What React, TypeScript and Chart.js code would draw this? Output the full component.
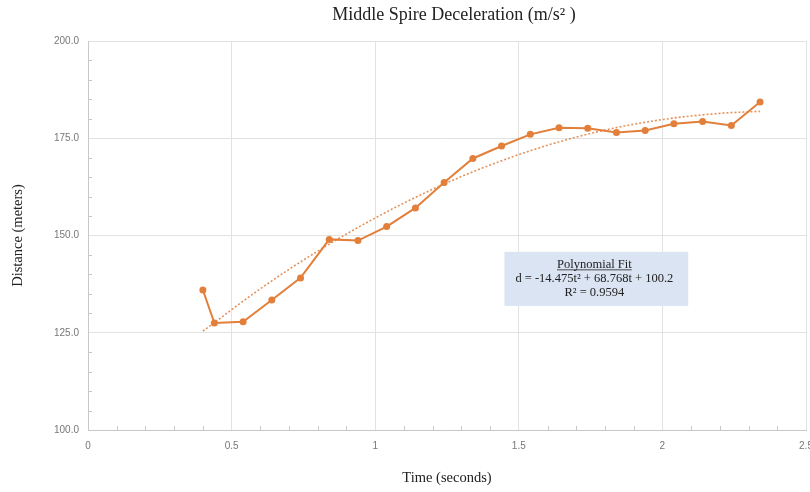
import { useEffect, useRef } from "react";
import { Chart, registerables } from "chart.js";

Chart.register(...registerables);

const times = [0.40, 0.44, 0.54, 0.64, 0.74, 0.84, 0.94, 1.04, 1.14, 1.24, 1.34, 1.44, 1.54, 1.64, 1.74, 1.84, 1.94, 2.04, 2.14, 2.24, 2.34];
const distances = [136.0, 127.5, 127.8, 133.4, 139.1, 149.0, 148.7, 152.3, 157.1, 163.6, 169.8, 173.0, 176.0, 177.7, 177.6, 176.5, 177.0, 178.7, 179.3, 178.3, 184.3];
const trendTimes = [0.4, 0.6, 0.8, 1.0, 1.2, 1.4, 1.6, 1.8, 2.0, 2.2, 2.34];
const trendValues = [125.4, 136.3, 146.0, 154.5, 161.9, 168.1, 173.2, 177.1, 179.8, 181.4, 181.9];
const yTickValues = [100, 125, 150, 175, 200];
const xTickValues = [0, 0.5, 1, 1.5, 2, 2.5];
const fitLines = ["Polynomial Fit", "d = -14.475t\u00B2 + 68.768t + 100.2", "R\u00B2 = 0.9594"];
const chartTitle = "Middle Spire Deceleration (m/s\u00B2 )";
const xTitle = "Time (seconds)";
const yTitle = "Distance (meters)";

const ORANGE = "rgb(226,127,58)";
const SERIF = "'Liberation Serif', 'DejaVu Serif', serif";
const SANS = "'Liberation Sans', Arial, sans-serif";

const minorTicksPlugin = {
  id: "minorTicks",
  beforeDatasetsDraw(chart: any) {
    const { ctx, chartArea, scales } = chart;
    const xs = scales.x;
    const ys = scales.y;
    ctx.save();
    ctx.strokeStyle = "#c8c8c8";
    ctx.lineWidth = 1;
    for (let i = 1; i < 20; i++) {
      if (i % 5 === 0) continue;
      const v = 100 + i * 5;
      const py = Math.round(ys.getPixelForValue(v)) + 0.5;
      ctx.beginPath();
      ctx.moveTo(chartArea.left, py);
      ctx.lineTo(chartArea.left + 4, py);
      ctx.stroke();
    }
    for (let i = 1; i < 25; i++) {
      if (i % 5 === 0) continue;
      const v = i * 0.1;
      const px = Math.round(xs.getPixelForValue(v)) + 0.5;
      ctx.beginPath();
      ctx.moveTo(px, chartArea.bottom);
      ctx.lineTo(px, chartArea.bottom - 4);
      ctx.stroke();
    }
    ctx.restore();
  },
};

const titlePlugin = {
  id: "centerTitle",
  afterDraw(chart: any) {
    const { ctx, chartArea } = chart;
    ctx.save();
    ctx.fillStyle = "#222";
    ctx.font = `18px ${SERIF}`;
    ctx.textAlign = "center";
    ctx.textBaseline = "middle";
    ctx.fillText(chartTitle, (chartArea.left + chartArea.right) / 2 + 7, 15);
    ctx.restore();
  },
};

const fitBoxPlugin = {
  id: "fitBox",
  afterDatasetsDraw(chart: any) {
    const { ctx, scales } = chart;
    const xs = scales.x;
    const ys = scales.y;
    const left = xs.getPixelForValue(1.45);
    const right = xs.getPixelForValue(2.09);
    const top = ys.getPixelForValue(145.8);
    const bottom = ys.getPixelForValue(131.9);
    ctx.save();
    ctx.fillStyle = "rgb(218,228,243)";
    ctx.fillRect(left, top, right - left, bottom - top);
    ctx.fillStyle = "#222";
    ctx.font = `12.5px ${SERIF}`;
    ctx.textAlign = "center";
    ctx.textBaseline = "middle";
    const cx = (left + right) / 2 - 2;
    const startY = top + 12.5;
    fitLines.forEach((line, i) => {
      const y = startY + i * 14;
      ctx.fillText(line, cx, y);
      if (i === 0) {
        const w = ctx.measureText(line).width;
        ctx.strokeStyle = "#222";
        ctx.lineWidth = 0.8;
        ctx.beginPath();
        ctx.moveTo(cx - w / 2, y + 5.5);
        ctx.lineTo(cx + w / 2, y + 5.5);
        ctx.stroke();
      }
    });
    ctx.restore();
  },
};

export default function App() {
  const canvasRef = useRef<HTMLCanvasElement | null>(null);

  useEffect(() => {
    document.body.style.margin = "0";
    const canvas = canvasRef.current;
    if (!canvas) return;
    const chart = new Chart(canvas, {
      type: "line",
      data: {
        datasets: [
          {
            label: "Distance",
            data: times.map((t, i) => ({ x: t, y: distances[i] })),
            borderColor: ORANGE,
            backgroundColor: ORANGE,
            borderWidth: 2,
            pointRadius: 3.5,
            pointBorderWidth: 0,
            pointBackgroundColor: ORANGE,
            tension: 0,
          },
          {
            label: "Poly fit",
            data: trendTimes.map((t, i) => ({ x: t, y: trendValues[i] })),
            borderColor: "rgba(228,140,80,0.95)",
            borderWidth: 1.6,
            borderDash: [2, 2],
            pointRadius: 0,
            cubicInterpolationMode: "monotone",
          },
        ],
      },
      options: {
        responsive: false,
        animation: false,
        layout: { padding: { top: 41, right: 4, left: 0, bottom: 0 } },
        plugins: {
          legend: { display: false },
          tooltip: { enabled: false },
          title: { display: false },
        },
        scales: {
          x: {
            type: "linear",
            min: 0,
            max: 2.5,
            afterBuildTicks: (scale: any) => {
              scale.ticks = xTickValues.map((v) => ({ value: v }));
            },
            afterFit: (scale: any) => {
              scale.height = 62;
              scale.paddingLeft = 0;
              scale.paddingRight = 0;
            },
            grid: { color: "#e2e2e2", drawTicks: false },
            border: { color: "#c8c8c8" },
            ticks: {
              padding: 10,
              color: "#777",
              font: { family: SANS, size: 10 },
              maxRotation: 0,
              autoSkip: false,
              callback: (v: any) => String(Number(v)),
            },
            title: {
              display: true,
              text: xTitle,
              color: "#222",
              font: { family: SERIF, size: 14.5 },
              padding: { top: 0, bottom: 5 },
            },
          },
          y: {
            min: 100,
            max: 200,
            afterBuildTicks: (scale: any) => {
              scale.ticks = yTickValues.map((v) => ({ value: v }));
            },
            afterFit: (scale: any) => {
              scale.width = 88;
            },
            grid: { color: "#e2e2e2", drawTicks: false },
            border: { color: "#c8c8c8" },
            ticks: {
              padding: 9,
              color: "#777",
              font: { family: SANS, size: 10 },
              callback: (v: any) => Number(v).toFixed(1),
            },
            title: {
              display: true,
              text: yTitle,
              color: "#222",
              font: { family: SERIF, size: 14.5 },
              padding: { top: 9, bottom: 0 },
            },
          },
        },
      },
      plugins: [minorTicksPlugin, fitBoxPlugin, titlePlugin],
    });
    return () => chart.destroy();
  }, []);

  return (
    <div style={{ width: 810, height: 492 }}>
      <canvas ref={canvasRef} width={810} height={492} style={{ display: "block" }} />
    </div>
  );
}
